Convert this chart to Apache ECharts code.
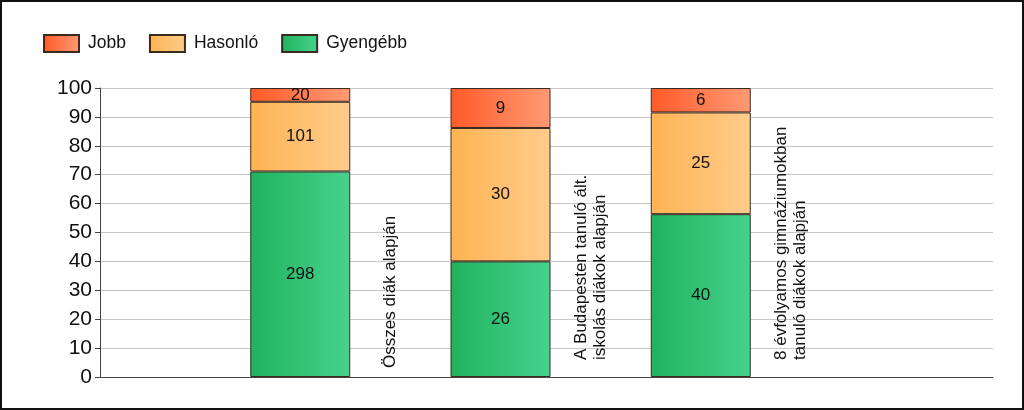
<!DOCTYPE html>
<html>
<head>
<meta charset="utf-8">
<script src="https://cdn.jsdelivr.net/npm/echarts@6/dist/echarts.min.js"></script>
<style>
  html, body { margin: 0; padding: 0; background: #fff; }
  #wrap { position: relative; width: 1024px; height: 410px; }
  #chart { width: 1024px; height: 410px; }
  #frame { position: absolute; left: 0; top: 0; width: 1024px; height: 410px; box-sizing: border-box; border: 2px solid #111; pointer-events: none; }
</style>
</head>
<body>
<div id="wrap"><div id="chart"></div><div id="frame"></div></div>
<script>
// ---- data ----
var categories = [
  'Összes diák alapján',
  'A Budapesten tanuló ált.\niskolás diákok alapján',
  '8 évfolyamos gimnáziumokban\ntanuló diákok alapján'
];
var seriesNames = ['Jobb', 'Hasonló', 'Gyengébb'];
var jobb = [20, 9, 6];
var hasonlo = [101, 30, 25];
var gyengebb = [298, 26, 40];
var yTicks = [0, 10, 20, 30, 40, 50, 60, 70, 80, 90, 100];

// ---- build ----
var totals = categories.map(function (c, i) { return jobb[i] + hasonlo[i] + gyengebb[i]; });
function toData(arr) {
  return arr.map(function (v, i) { return { value: v / totals[i] * 100, count: v }; });
}
function grad(c1, c2) {
  return { type: 'linear', x: 0, y: 0, x2: 1, y2: 0, colorStops: [{ offset: 0, color: c1 }, { offset: 1, color: c2 }] };
}
var FONT = "'Liberation Sans', Arial, sans-serif";
var slot = 200.25;          // px per category
var plotLeft = 100, plotRight = 31, plotTop = 88, plotBottom = 33;
var plotWidth = 1024 - plotLeft - plotRight;
var labelOffset = 0.45;     // category-label shift, in slots

function barSeries(name, arr, c1, c2) {
  return {
    name: name, type: 'bar', stack: 'total', barWidth: 100,
    xAxisIndex: 1, yAxisIndex: 1,
    data: toData(arr),
    itemStyle: { color: grad(c1, c2), borderColor: '#3a2a20', borderWidth: 1 },
    label: {
      show: true, position: 'inside', color: '#111', fontFamily: FONT, fontSize: 17,
      formatter: function (p) { return p.data.count; }
    },
    emphasis: { disabled: true },
    animation: false
  };
}

var chart = echarts.init(document.getElementById('chart'), null, { renderer: 'canvas' });
chart.setOption({
  backgroundColor: '#fff',
  animation: false,
  legend: {
    data: seriesNames,
    left: 43, top: 34, padding: 0,
    icon: 'rect',
    itemWidth: 35, itemHeight: 17, itemGap: 23,
    textStyle: { fontFamily: FONT, fontSize: 17.5, color: '#111', padding: [0, 0, 0, 4] },
    selectedMode: false
  },
  grid: [
    { left: plotLeft, right: plotRight, top: plotTop, bottom: plotBottom, containLabel: false },
    { left: plotLeft + slot / 2, width: slot * categories.length, top: plotTop, bottom: plotBottom, containLabel: false }
  ],
  xAxis: [
    {
      type: 'value', gridIndex: 0, min: 0, max: plotWidth / slot,
      axisLine: { show: true, onZero: false, lineStyle: { color: '#444', width: 1 } },
      axisTick: { show: false },
      splitLine: { show: false },
      axisLabel: {
        show: true, inside: true, rotate: 90, margin: 9,
        customValues: categories.map(function (c, i) { return i + 1 + labelOffset; }),
        fontFamily: FONT, fontSize: 17, color: '#111', lineHeight: 19,
        rich: {
          s: { fontFamily: FONT, fontSize: 17, color: '#111', lineHeight: 19 },
          m: { fontFamily: FONT, fontSize: 17, color: '#111', lineHeight: 19, padding: [0, 0, 0, 8] }
        },
        formatter: function (v) {
          var c = categories[Math.round(v - 1 - labelOffset)] || '';
          var lines = c.split('\n');
          var key = lines.length > 1 ? 'm' : 's';
          return lines.map(function (l) { return '{' + key + '|' + l + '}'; }).join('\n');
        }
      }
    },
    {
      type: 'category', gridIndex: 1, data: categories,
      show: false
    }
  ],
  yAxis: [
    {
      type: 'value', gridIndex: 0, min: 0, max: 100, interval: 10,
      axisLine: { show: true, lineStyle: { color: '#444', width: 1 } },
      axisTick: { show: true, length: 5, lineStyle: { color: '#444' } },
      splitLine: { show: true, lineStyle: { color: '#c8c8c8', width: 1 } },
      axisLabel: { fontFamily: FONT, fontSize: 21, color: '#111', margin: 8, customValues: yTicks }
    },
    { type: 'value', gridIndex: 1, min: 0, max: 100, show: false, splitLine: { show: false } }
  ],
  series: [
    barSeries('Gyengébb', gyengebb, '#1fb35e', '#47d18d'),
    barSeries('Hasonló', hasonlo, '#ffb352', '#ffcc8c'),
    barSeries('Jobb', jobb, '#ff5a28', '#ff9a74')
  ]
});
</script>
</body>
</html>
